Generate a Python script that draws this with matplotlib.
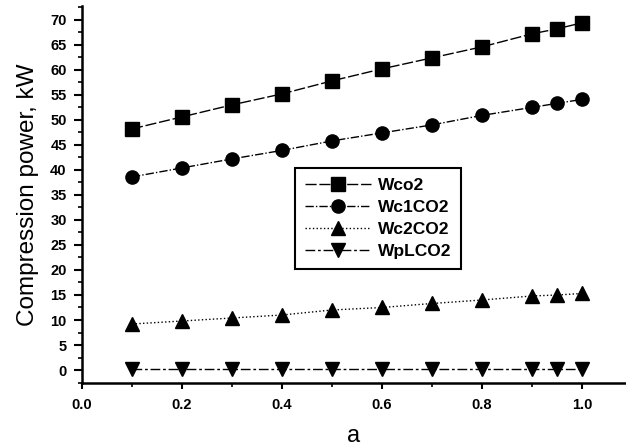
import matplotlib
matplotlib.use("Agg")
import matplotlib.pyplot as plt
from matplotlib.ticker import MultipleLocator

plt.rcParams['font.family'] = ['Liberation Sans', 'DejaVu Sans']

a = [0.1, 0.2, 0.3, 0.4, 0.5, 0.6, 0.7, 0.8, 0.9, 0.95, 1.0]
wco2 = [48.2, 50.6, 53.0, 55.2, 57.8, 60.2, 62.4, 64.6, 67.2, 68.2, 69.4]
wc1co2 = [38.6, 40.4, 42.2, 43.9, 45.8, 47.4, 49.0, 50.9, 52.5, 53.3, 54.1]
wc2co2 = [9.2, 9.8, 10.4, 11.0, 12.0, 12.5, 13.3, 14.0, 14.8, 15.0, 15.3]
wplco2 = [0.2, 0.2, 0.2, 0.2, 0.2, 0.2, 0.2, 0.2, 0.2, 0.2, 0.2]
labels = ['Wco2', 'Wc1CO2', 'Wc2CO2', 'WpLCO2']
xticks = [0.0, 0.2, 0.4, 0.6, 0.8, 1.0]
yticks = list(range(0, 75, 5))

fig = plt.figure(figsize=(6.26, 4.48), dpi=100)
ax = fig.add_axes([0.131, 0.145, 0.869, 0.842])

ms = 9.5
ax.plot(a, wco2, color='black', linestyle=(0, (8, 2)), linewidth=1.0,
        marker='s', markersize=ms, label=labels[0])
ax.plot(a, wc1co2, color='black', linestyle=(0, (6, 1.5, 1, 1.5)), linewidth=1.0,
        marker='o', markersize=ms, label=labels[1])
ax.plot(a, wc2co2, color='black', linestyle=':', linewidth=1.0,
        marker='^', markersize=ms, label=labels[2])
ax.plot(a, wplco2, color='black', linestyle=(0, (7, 2, 2, 2)), linewidth=1.0,
        marker='v', markersize=ms, label=labels[3])

ax.set_xlim(0.0, 1.088)
ax.set_ylim(-2.6, 72.8)
ax.set_xticks(xticks)
ax.set_xticklabels([f"{t:.1f}" for t in xticks])
ax.set_yticks(yticks)
ax.xaxis.set_minor_locator(MultipleLocator(0.1))
ax.yaxis.set_minor_locator(MultipleLocator(2.5))

for s in ['top', 'right']:
    ax.spines[s].set_visible(False)
for s in ['left', 'bottom']:
    ax.spines[s].set_linewidth(1.8)

ax.tick_params(axis='both', which='major', direction='out', width=1.5, labelsize=10.5)
ax.tick_params(axis='y', which='major', length=6, pad=5)
ax.tick_params(axis='x', which='major', length=4, pad=7)
ax.tick_params(axis='both', which='minor', direction='out', width=1.2, length=3)
for lab in ax.get_xticklabels() + ax.get_yticklabels():
    lab.set_fontweight('bold')

ax.set_ylabel('Compression power, kW', fontsize=17.5, labelpad=8)
ax.set_xlabel('a', fontsize=17, labelpad=9)

leg = ax.legend(loc='upper left', bbox_to_anchor=(0.392, 0.570), borderaxespad=0,
                fancybox=False, edgecolor='black', framealpha=1,
                handlelength=3.8, labelspacing=0.4, borderpad=0.55, handletextpad=0.4,
                prop={'weight': 'bold', 'size': 12.5})
leg.get_frame().set_linewidth(1.5)

fig.savefig('out.png', dpi=100)
